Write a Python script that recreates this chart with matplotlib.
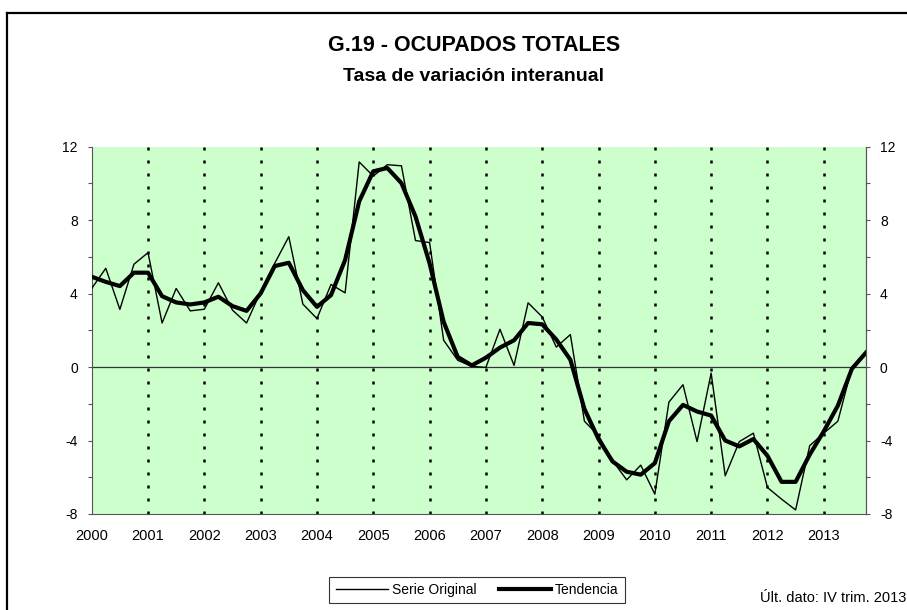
import numpy as np
import matplotlib
matplotlib.use('Agg')
import matplotlib.pyplot as plt
from matplotlib.lines import Line2D
from matplotlib.ticker import MultipleLocator

plt.rcParams['font.family'] = ['Liberation Sans', 'DejaVu Sans']
plt.rcParams['axes.unicode_minus'] = False

# ── Data: quarterly, Q1 2000 .. Q4 2013 ───────────────────────
years = list(range(2000, 2014))
quarters = np.arange(2000, 2014, 0.25)

serie_original = [
    4.28, 5.38, 3.14, 5.60,     # 2000
    6.23, 2.40, 4.28, 3.06,     # 2001
    3.15, 4.59, 3.10, 2.40,     # 2002
    4.10, 5.65, 7.10, 3.43,     # 2003
    2.64, 4.50, 4.04, 11.17,    # 2004
    10.40, 11.02, 10.96, 6.89,  # 2005
    6.78, 1.46, 0.37, 0.04,     # 2006
    -0.02, 2.06, 0.09, 3.50,    # 2007
    2.73, 1.09, 1.77, -2.95,    # 2008
    -3.73, -5.10, -6.14, -5.34, # 2009
    -6.92, -1.91, -0.96, -4.06, # 2010
    -0.33, -5.92, -4.06, -3.60, # 2011
    -6.56, -7.19, -7.78, -4.28, # 2012
    -3.60, -2.95, -0.02, 0.79,  # 2013
]

tendencia = [
    4.92, 4.64, 4.41, 5.14,
    5.14, 3.86, 3.52, 3.41,
    3.52, 3.83, 3.32, 3.06,
    4.01, 5.50, 5.68, 4.19,
    3.28, 3.92, 5.83, 9.02,
    10.66, 10.84, 10.02, 8.20,
    5.65, 2.46, 0.55, 0.09,
    0.51, 1.06, 1.46, 2.40,
    2.33, 1.50, 0.40, -2.28,
    -3.92, -5.14, -5.70, -5.86,
    -5.23, -2.95, -2.06, -2.42,
    -2.64, -4.00, -4.32, -3.92,
    -4.83, -6.25, -6.25, -4.77,
    -3.50, -2.10, -0.09, 0.79,
]

GREEN = '#CCFFCC'
SPINE = '#555555'

fig = plt.figure(figsize=(9.07, 6.10), dpi=100)
ax = fig.add_axes([0.1011, 0.1574, 0.8537, 0.6021])
ax.set_facecolor(GREEN)

ax.set_xlim(2000, 2013.75)
ax.set_ylim(-8, 12)

# year separators
for yr in years[1:]:
    ax.axvline(yr, color='black', lw=1.8, ls=(0, (1.2, 4.0)), zorder=1)
ax.axhline(0, color='#333333', lw=0.9, zorder=2)

ax.plot(quarters, serie_original, color='black', lw=1.0, zorder=3,
        label='Serie Original')
ax.plot(quarters, tendencia, color='black', lw=3.0, zorder=4,
        solid_joinstyle='round', label='Tendencia')

# axes styling
ax.spines['top'].set_visible(False)
for s in ['left', 'right', 'bottom']:
    ax.spines[s].set_color(SPINE)
    ax.spines[s].set_linewidth(0.8)

ax.set_xticks(years)
ax.set_xticklabels([str(y) for y in years])
ax.tick_params(axis='x', length=0, pad=11, labelsize=10.5)

ax.yaxis.set_major_locator(MultipleLocator(4))
ax.yaxis.set_minor_locator(MultipleLocator(2))
ax.tick_params(axis='y', which='both', direction='out', length=3,
               width=0.8, color=SPINE, labelsize=10, pad=7)

ax2 = ax.twinx()
ax2.set_ylim(-8, 12)
ax2.yaxis.set_major_locator(MultipleLocator(4))
ax2.yaxis.set_minor_locator(MultipleLocator(2))
ax2.tick_params(axis='y', which='both', direction='out', length=3,
                width=0.8, color=SPINE, labelsize=10, pad=7)
for s in ['top', 'left', 'bottom']:
    ax2.spines[s].set_visible(False)
ax2.spines['right'].set_color(SPINE)
ax2.spines['right'].set_linewidth(0.8)

# titles
fig.text(0.5226, 0.926, 'G.19 - OCUPADOS TOTALES', ha='center', va='center',
         fontsize=15.5, fontweight='bold')
fig.text(0.5226, 0.875, 'Tasa de variación interanual', ha='center',
         va='center', fontsize=14, fontweight='bold')

# legend
handles, labels = ax.get_legend_handles_labels()
leg = fig.legend(handles, labels, loc='center', bbox_to_anchor=(0.526, 0.0328),
                 ncol=2, fontsize=10, frameon=True, fancybox=False,
                 edgecolor='black', handlelength=3.8, handletextpad=0.25,
                 columnspacing=1.6, borderpad=0.45)
leg.get_frame().set_linewidth(0.8)

fig.text(0.999, 0.0197, 'Últ. dato: IV trim. 2013', ha='right', va='center',
         fontsize=10.5)

# outer frame (left and top edges visible)
fig.add_artist(Line2D([0.0077, 0.0077], [-0.1, 0.979], color='black',
                      lw=1.6, transform=fig.transFigure))
fig.add_artist(Line2D([0.0077, 1.1], [0.979, 0.979], color='black',
                      lw=1.6, transform=fig.transFigure))

fig.savefig('out.png', dpi=100)
